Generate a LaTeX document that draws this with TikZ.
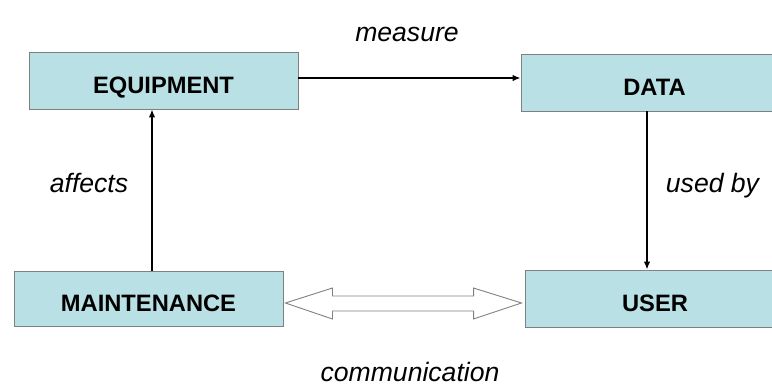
\documentclass[tikz,border=0pt]{standalone}
\usepackage{fontspec}
\setmainfont{Liberation Sans}
\usetikzlibrary{arrows.meta,calc}
\definecolor{boxfill}{RGB}{185,224,228}
\definecolor{boxline}{RGB}{128,128,128}
\tikzset{
  box/.style={draw=boxline, line width=0.9pt, fill=boxfill, inner sep=0pt,
    font=\fontsize{23.7}{26}\selectfont\bfseries, text height=25.5pt, text depth=0pt},
  conn/.style={line width=1.5pt, -{Latex[length=8pt,width=6.5pt]}},
  lbl/.style={font=\fontsize{26.6}{30}\selectfont\itshape, anchor=base, inner sep=0pt},
  dbl/.style={draw=boxline, line width=0.9pt, fill=white}
}
\begin{document}
\begin{tikzpicture}[x=1pt,y=-1pt]
\useasboundingbox (0,0) rectangle (772,389);
\clip (0,0) rectangle (772,389);
\node[box, minimum width=267pt, minimum height=57pt] (data) at (654.5,82.5) {DATA};
\node[box, minimum width=260pt, minimum height=57pt] (user) at (655,298.5) {USER};
\node[box, minimum width=269pt, minimum height=57pt] (eq) at (163.5,80.5) {EQUIPMENT};
\node[box, minimum width=269pt, minimum height=55pt] (mt) at (148.5,298.5) {MAINTENANCE};

\draw[conn] (eq.east |- 0,78) -- (data.west |- 0,78);
\draw[conn] (mt.north -| 152,0) -- (eq.south -| 152,0);
\draw[conn] (data.south -| 647,0) -- (user.north -| 647,0);

\coordinate (L) at ($(mt.east)+(2,4.5)$);
\coordinate (R) at ($(user.west)+(-3,4.5)$);
\draw[dbl] (L) -- ++(47,-15) -- ++(0,8) -- ($(R)+(-48,-7)$) -- ++(0,-8) -- (R)
  -- ++(-48,16) -- ++(0,-8) -- ($(L)+(47,8)$) -- ++(0,8) -- cycle;

\node[lbl] (m) at (407,41.7) {measure};
\node[lbl] (a) at (89,192.7) {affects};
\node[lbl] (u) at (712.5,192.3) {used by};
\node[lbl] (c) at (410,381.7) {communication};
\end{tikzpicture}
\end{document}
